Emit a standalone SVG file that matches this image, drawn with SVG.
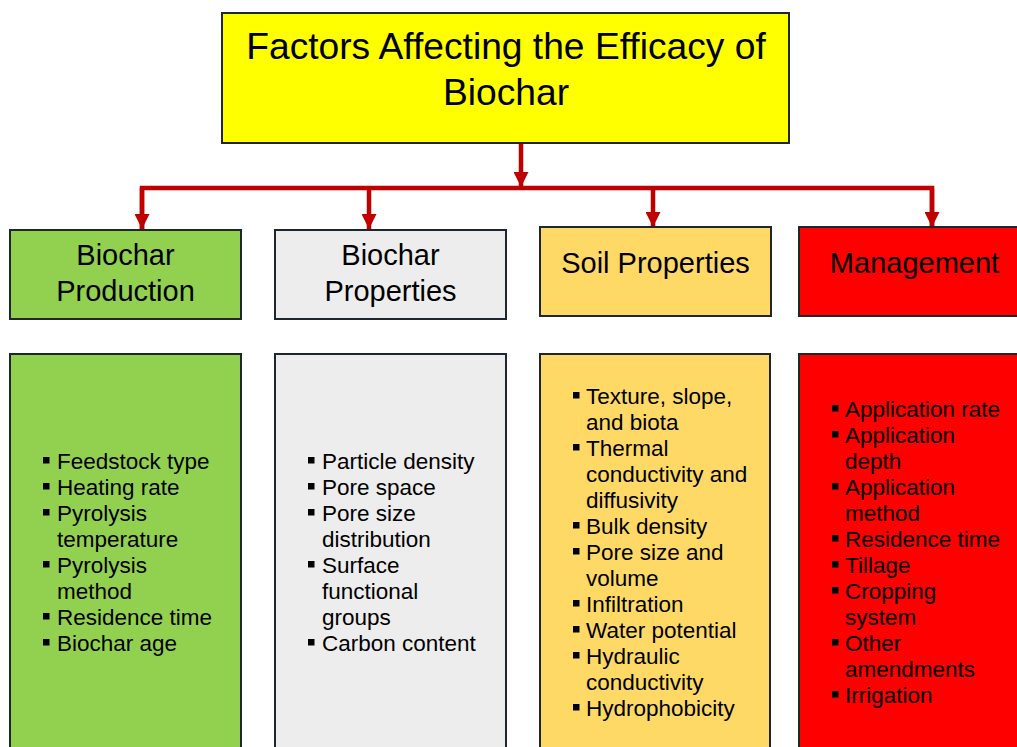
<svg xmlns="http://www.w3.org/2000/svg" width="1017" height="747" viewBox="0 0 1017 747">
  <defs>
    <marker id="arrowhead" markerUnits="userSpaceOnUse" markerWidth="15" markerHeight="15" viewBox="0 0 15 15" refX="15" refY="7.5" orient="auto">
      <path d="M0,0 L15,7.5 L0,15 z" fill="#C00000"/>
    </marker>
    <style>
      .box { stroke: #1E2630; stroke-width: 2; }
      .title { font-family: "Liberation Sans", Arial, sans-serif; font-size: 37.2px; fill: #000; text-anchor: middle; }
      .head { font-family: "Liberation Sans", Arial, sans-serif; font-size: 29px; fill: #000; text-anchor: middle; }
      .item { font-family: "Liberation Sans", Arial, sans-serif; font-size: 22.5px; fill: #000; }
      .bullet { fill: #000; }
      .link { stroke: #C00000; stroke-width: 4.5; fill: none; }
      .green { fill: #92D050; }
      .grey { fill: #EDEDED; }
      .gold { fill: #FFD966; }
      .red { fill: #FF0000; }
    </style>
  </defs>

  <rect width="1017" height="747" fill="#FFFFFF"/>

  <!-- connectors -->
  <g id="connectors">
    <line class="link" x1="521" y1="144" x2="521" y2="187" marker-end="url(#arrowhead)"/>
    <polyline class="link" points="142,230 142,188 932,188 932,227"/>
    <line class="link" x1="142" y1="188" x2="142" y2="229" marker-end="url(#arrowhead)"/>
    <line class="link" x1="369" y1="188" x2="369" y2="229" marker-end="url(#arrowhead)"/>
    <line class="link" x1="653" y1="188" x2="653" y2="227" marker-end="url(#arrowhead)"/>
    <line class="link" x1="932" y1="188" x2="932" y2="227" marker-end="url(#arrowhead)"/>
  </g>

  <!-- root -->
  <g id="root">
    <rect class="box" x="222" y="13" width="567" height="130" fill="#FFFF00"/>
    <text class="title" x="506" y="59">Factors Affecting the Efficacy of</text>
    <text class="title" x="506" y="105">Biochar</text>
  </g>

  <!-- category headers -->
  <g id="production-head">
    <rect class="box green" x="10" y="230" width="231" height="89"/>
    <text class="head" x="125.5" y="265">Biochar</text>
    <text class="head" x="125.5" y="301">Production</text>
  </g>
  <g id="properties-head">
    <rect class="box grey" x="275" y="230" width="231" height="89"/>
    <text class="head" x="390.5" y="265">Biochar</text>
    <text class="head" x="390.5" y="301">Properties</text>
  </g>
  <g id="soil-head">
    <rect class="box gold" x="540" y="227" width="231" height="89"/>
    <text class="head" x="655.5" y="273">Soil Properties</text>
  </g>
  <g id="management-head">
    <rect class="box red" x="799" y="227" width="240" height="89"/>
    <text class="head" x="914.5" y="273">Management</text>
  </g>

  <!-- factor lists -->
  <g id="production-list">
    <rect class="box green" x="10" y="354" width="231" height="410"/>
    <rect class="bullet" x="43" y="457" width="6.5" height="6.5"/>
    <text class="item" x="57" y="469">Feedstock type</text>
    <rect class="bullet" x="43" y="483" width="6.5" height="6.5"/>
    <text class="item" x="57" y="495">Heating rate</text>
    <rect class="bullet" x="43" y="509" width="6.5" height="6.5"/>
    <text class="item" x="57" y="521">Pyrolysis</text>
    <text class="item" x="57" y="547">temperature</text>
    <rect class="bullet" x="43" y="561" width="6.5" height="6.5"/>
    <text class="item" x="57" y="573">Pyrolysis</text>
    <text class="item" x="57" y="599">method</text>
    <rect class="bullet" x="43" y="613" width="6.5" height="6.5"/>
    <text class="item" x="57" y="625">Residence time</text>
    <rect class="bullet" x="43" y="639" width="6.5" height="6.5"/>
    <text class="item" x="57" y="651">Biochar age</text>
  </g>

  <g id="properties-list">
    <rect class="box grey" x="275" y="354" width="231" height="410"/>
    <rect class="bullet" x="308" y="457" width="6.5" height="6.5"/>
    <text class="item" x="322" y="469">Particle density</text>
    <rect class="bullet" x="308" y="483" width="6.5" height="6.5"/>
    <text class="item" x="322" y="495">Pore space</text>
    <rect class="bullet" x="308" y="509" width="6.5" height="6.5"/>
    <text class="item" x="322" y="521">Pore size</text>
    <text class="item" x="322" y="547">distribution</text>
    <rect class="bullet" x="308" y="561" width="6.5" height="6.5"/>
    <text class="item" x="322" y="573">Surface</text>
    <text class="item" x="322" y="599">functional</text>
    <text class="item" x="322" y="625">groups</text>
    <rect class="bullet" x="308" y="639" width="6.5" height="6.5"/>
    <text class="item" x="322" y="651">Carbon content</text>
  </g>

  <g id="soil-list">
    <rect class="box gold" x="540" y="354" width="230" height="410"/>
    <rect class="bullet" x="573" y="392" width="6.5" height="6.5"/>
    <text class="item" x="586" y="404">Texture, slope,</text>
    <text class="item" x="586" y="430">and biota</text>
    <rect class="bullet" x="573" y="444" width="6.5" height="6.5"/>
    <text class="item" x="586" y="456">Thermal</text>
    <text class="item" x="586" y="482">conductivity and</text>
    <text class="item" x="586" y="508">diffusivity</text>
    <rect class="bullet" x="573" y="522" width="6.5" height="6.5"/>
    <text class="item" x="586" y="534">Bulk density</text>
    <rect class="bullet" x="573" y="548" width="6.5" height="6.5"/>
    <text class="item" x="586" y="560">Pore size and</text>
    <text class="item" x="586" y="586">volume</text>
    <rect class="bullet" x="573" y="600" width="6.5" height="6.5"/>
    <text class="item" x="586" y="612">Infiltration</text>
    <rect class="bullet" x="573" y="626" width="6.5" height="6.5"/>
    <text class="item" x="586" y="638">Water potential</text>
    <rect class="bullet" x="573" y="652" width="6.5" height="6.5"/>
    <text class="item" x="586" y="664">Hydraulic</text>
    <text class="item" x="586" y="690">conductivity</text>
    <rect class="bullet" x="573" y="704" width="6.5" height="6.5"/>
    <text class="item" x="586" y="716">Hydrophobicity</text>
  </g>

  <g id="management-list">
    <rect class="box red" x="799" y="354" width="240" height="410"/>
    <rect class="bullet" x="832" y="405" width="6.5" height="6.5"/>
    <text class="item" x="845" y="417">Application rate</text>
    <rect class="bullet" x="832" y="431" width="6.5" height="6.5"/>
    <text class="item" x="845" y="443">Application</text>
    <text class="item" x="845" y="469">depth</text>
    <rect class="bullet" x="832" y="483" width="6.5" height="6.5"/>
    <text class="item" x="845" y="495">Application</text>
    <text class="item" x="845" y="521">method</text>
    <rect class="bullet" x="832" y="535" width="6.5" height="6.5"/>
    <text class="item" x="845" y="547">Residence time</text>
    <rect class="bullet" x="832" y="561" width="6.5" height="6.5"/>
    <text class="item" x="845" y="573">Tillage</text>
    <rect class="bullet" x="832" y="587" width="6.5" height="6.5"/>
    <text class="item" x="845" y="599">Cropping</text>
    <text class="item" x="845" y="625">system</text>
    <rect class="bullet" x="832" y="639" width="6.5" height="6.5"/>
    <text class="item" x="845" y="651">Other</text>
    <text class="item" x="845" y="677">amendments</text>
    <rect class="bullet" x="832" y="691" width="6.5" height="6.5"/>
    <text class="item" x="845" y="703">Irrigation</text>
  </g>
</svg>
